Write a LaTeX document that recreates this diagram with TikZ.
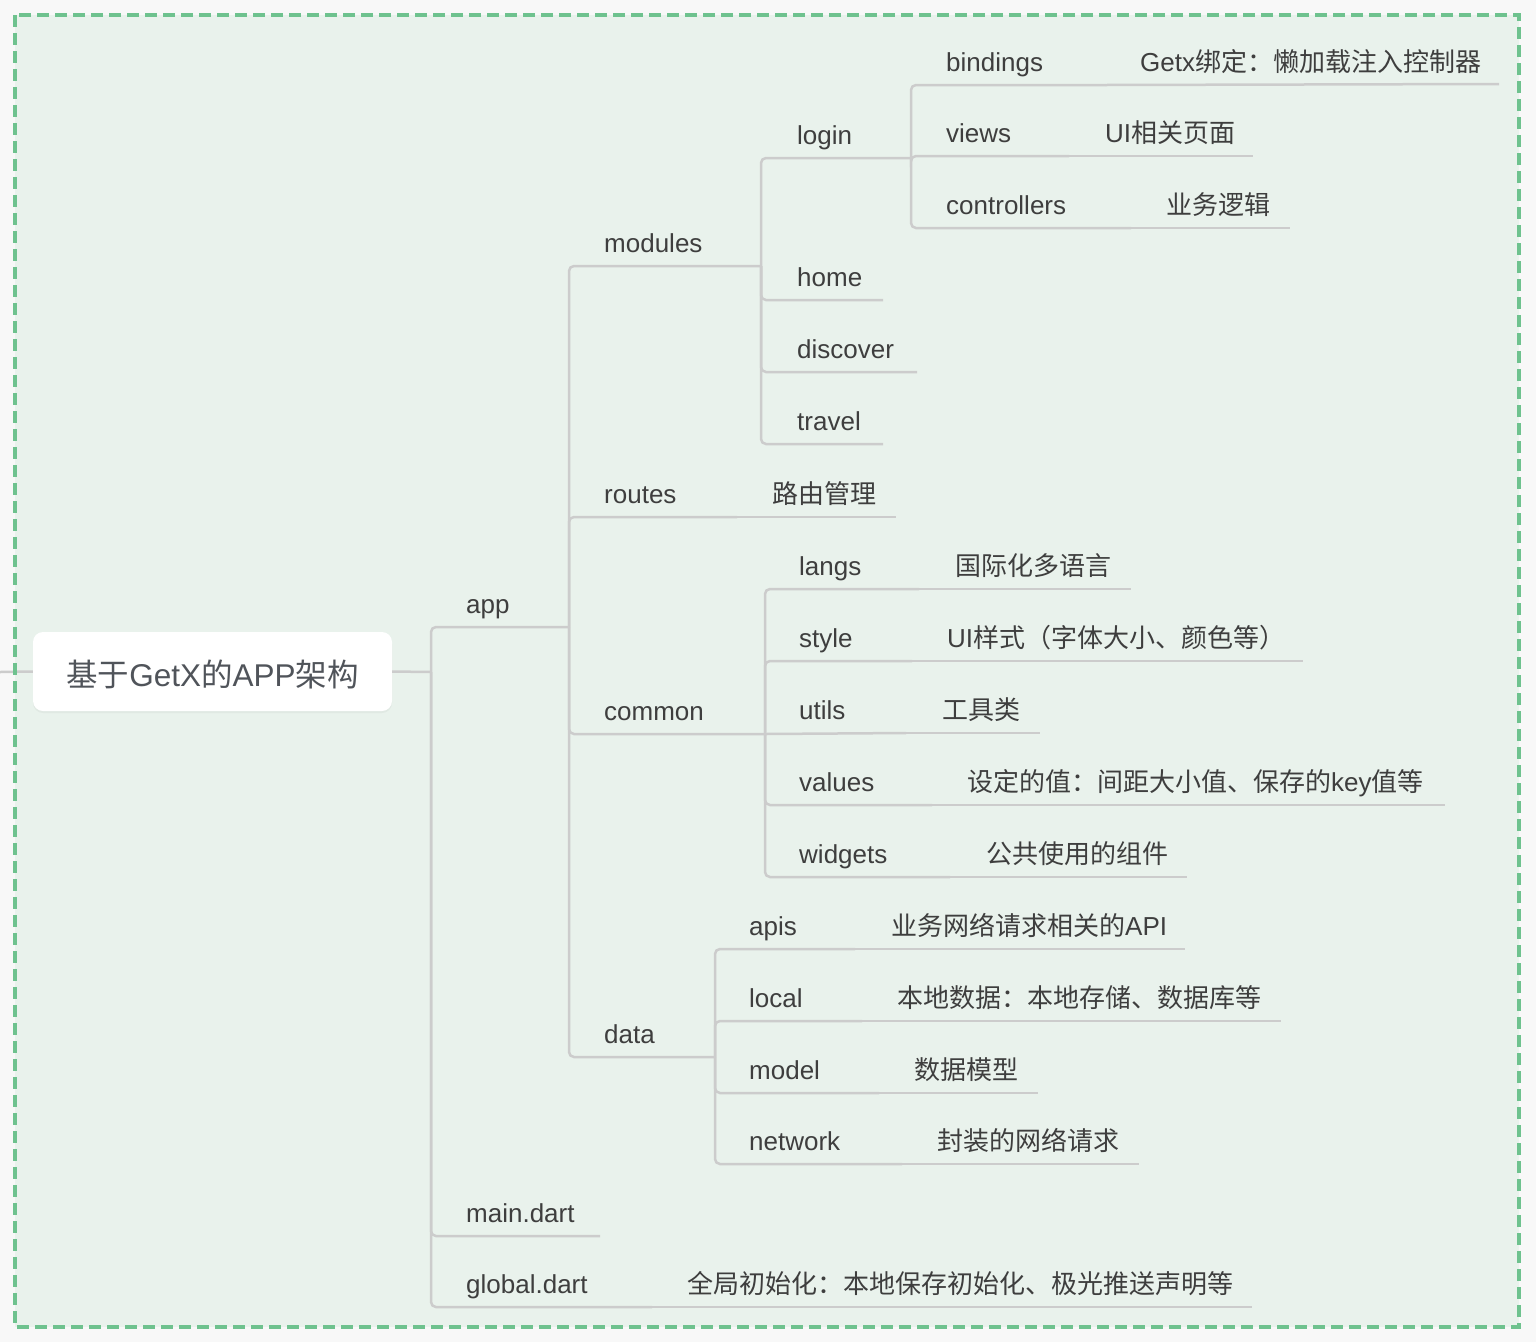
\documentclass[tikz,border=0pt]{standalone}
\usepackage{fontspec}
\setmainfont{Liberation Sans}
\newfontfamily\cjk{Noto Sans CJK SC}
\newcommand\latn[1]{{\rmfamily #1}}
\usetikzlibrary{shadows}
\definecolor{bgout}{RGB}{248,248,248}
\definecolor{bgin}{RGB}{233,242,236}
\definecolor{framec}{RGB}{110,194,142}
\definecolor{linec}{RGB}{204,204,204}
\definecolor{txt}{RGB}{62,62,62}
\definecolor{roottxt}{RGB}{80,84,90}
\begin{document}
\begin{tikzpicture}[x=1pt,y=-1pt,
  lbl/.style={anchor=base west, inner sep=0pt, text=txt, font=\fontsize{26}{30}\selectfont},
  dsc/.style={anchor=base west, inner sep=0pt, text=txt, font=\fontsize{26}{30}\selectfont\cjk},
  conn/.style={draw=linec, line width=2.5pt, rounded corners=5pt},
  rootbox/.style={fill=white, rounded corners=10pt, minimum width=359pt, minimum height=79pt,
    inner sep=0pt, text=roottxt, font=\fontsize{31.5}{36}\selectfont,
    drop shadow={opacity=0.08, shadow xshift=0pt, shadow yshift=-2pt}},
  borderline/.style={draw=framec, line width=4pt, dash pattern=on 12pt off 6pt}]
% backgrounds
\fill[bgout] (0,0) rectangle (1536,1342);
\useasboundingbox (0,0) rectangle (1536,1342);
\fill[bgin] (15,15) rectangle (1519,1327);

% root
\node[rootbox] (root) at (212.5,671.5) {\raisebox{-3pt}[\height][\depth]{{\cjk 基于}GetX{\cjk 的}APP{\cjk 架构}}};
\coordinate (stub) at (0,672);
\coordinate (root-e) at (431,672);
\draw[conn] (stub) -- (root.west);
\draw[conn] (root.east) -- (root-e);

% level 1
\coordinate (app-e) at (569,627);
\coordinate (maindart-e) at (600,1236);
\coordinate (globaldart-e) at (652,1307);
\coordinate (globaldart-d) at (1252,1307);
\node[lbl] (app) at (466,613) {app};
\node[lbl] (maindart) at (466,1222) {main.dart};
\node[lbl] (globaldart) at (466,1293) {global.dart};
\node[dsc] (globaldesc) at (687,1293) {全局初始化：本地保存初始化、极光推送声明等};
\foreach \c in {app,maindart,globaldart}
  \draw[conn] (root-e) -- (root-e |- \c-e) -- (\c-e);
\draw[conn] (globaldart-e) -- (globaldart-d);

% level 2 (app)
\coordinate (modules-e) at (761,266);
\coordinate (routes-e) at (737,517);
\coordinate (routes-d) at (896,517);
\coordinate (common-e) at (765,734);
\coordinate (data-e) at (715,1057);
\node[lbl] (modules) at (604,252) {modules};
\node[lbl] (routes) at (604,503) {routes};
\node[dsc] (routesdesc) at (772,503) {路由管理};
\node[lbl] (common) at (604,720) {common};
\node[lbl] (data) at (604,1043) {data};
\foreach \c in {modules,routes,common,data}
  \draw[conn] (app-e) -- (app-e |- \c-e) -- (\c-e);
\draw[conn] (routes-e) -- (routes-d);

% modules children
\coordinate (login-e) at (911,158);
\coordinate (home-e) at (883,300);
\coordinate (discover-e) at (917,372);
\coordinate (travel-e) at (883,444);
\node[lbl] (login) at (797,144) {login};
\node[lbl] (home) at (797,286) {home};
\node[lbl] (discover) at (797,358) {discover};
\node[lbl] (travel) at (797,430) {travel};
\foreach \c in {login,home,discover,travel}
  \draw[conn] (modules-e) -- (modules-e |- \c-e) -- (\c-e);

% login children
\coordinate (bindings-e) at (1105,85);
\coordinate (bindings-d) at (1499,84);
\coordinate (views-e) at (1069,156);
\coordinate (views-d) at (1253,156);
\coordinate (controllers-e) at (1131,228);
\coordinate (controllers-d) at (1290,228);
\node[lbl] (bindings) at (946,71) {bindings};
\node[dsc] (bindingsdesc) at (1140,71) {\latn{Getx}绑定：懒加载注入控制器};
\node[lbl] (views) at (946,142) {views};
\node[dsc] (viewsdesc) at (1105,142) {\latn{UI}相关页面};
\node[lbl] (controllers) at (946,214) {controllers};
\node[dsc] (controllersdesc) at (1166,214) {业务逻辑};
\foreach \c in {bindings,views,controllers}{
  \draw[conn] (login-e) -- (login-e |- \c-e) -- (\c-e);
  \draw[conn] (\c-e) -- (\c-d);
}

% common children
\coordinate (langs-e) at (919,589);
\coordinate (langs-d) at (1131,589);
\coordinate (style-e) at (912,661);
\coordinate (style-d) at (1303,661);
\coordinate (utils-e) at (906,733);
\coordinate (utils-d) at (1040,733);
\coordinate (values-e) at (932,805);
\coordinate (values-d) at (1445,805);
\coordinate (widgets-e) at (950,877);
\coordinate (widgets-d) at (1187,877);
\node[lbl] (langs) at (799,575) {langs};
\node[dsc] (langsdesc) at (955,575) {国际化多语言};
\node[lbl] (style) at (799,647) {style};
\node[dsc] (styledesc) at (947,647) {\latn{UI}样式（字体大小、颜色等）};
\node[lbl] (utils) at (799,719) {utils};
\node[dsc] (utilsdesc) at (942,719) {工具类};
\node[lbl] (values) at (799,791) {values};
\node[dsc] (valuesdesc) at (967,791) {设定的值：间距大小值、保存的\latn{key}值等};
\node[lbl] (widgets) at (799,863) {widgets};
\node[dsc] (widgetsdesc) at (986,863) {公共使用的组件};
\foreach \c in {langs,style,values,widgets}
  \draw[conn] (common-e) -- (common-e |- \c-e) -- (\c-e);
\draw[conn] (common-e) -- (utils-e);
\foreach \c in {langs,style,utils,values,widgets}
  \draw[conn] (\c-e) -- (\c-d);

% data children
\coordinate (apis-e) at (855,949);
\coordinate (apis-d) at (1185,949);
\coordinate (local-e) at (862,1021);
\coordinate (local-d) at (1281,1021);
\coordinate (model-e) at (879,1093);
\coordinate (model-d) at (1038,1093);
\coordinate (network-e) at (902,1164);
\coordinate (network-d) at (1139,1164);
\node[lbl] (apis) at (749,935) {apis};
\node[dsc] (apisdesc) at (891,935) {业务网络请求相关的\latn{API}};
\node[lbl] (local) at (749,1007) {local};
\node[dsc] (localdesc) at (897,1007) {本地数据：本地存储、数据库等};
\node[lbl] (model) at (749,1079) {model};
\node[dsc] (modeldesc) at (914,1079) {数据模型};
\node[lbl] (network) at (749,1150) {network};
\node[dsc] (networkdesc) at (937,1150) {封装的网络请求};
\foreach \c in {apis,local,model,network}{
  \draw[conn] (data-e) -- (data-e |- \c-e) -- (\c-e);
  \draw[conn] (\c-e) -- (\c-d);
}

% dashed frame on top
\draw[borderline] (15,15) rectangle (1519,1327);
\end{tikzpicture}
\end{document}
